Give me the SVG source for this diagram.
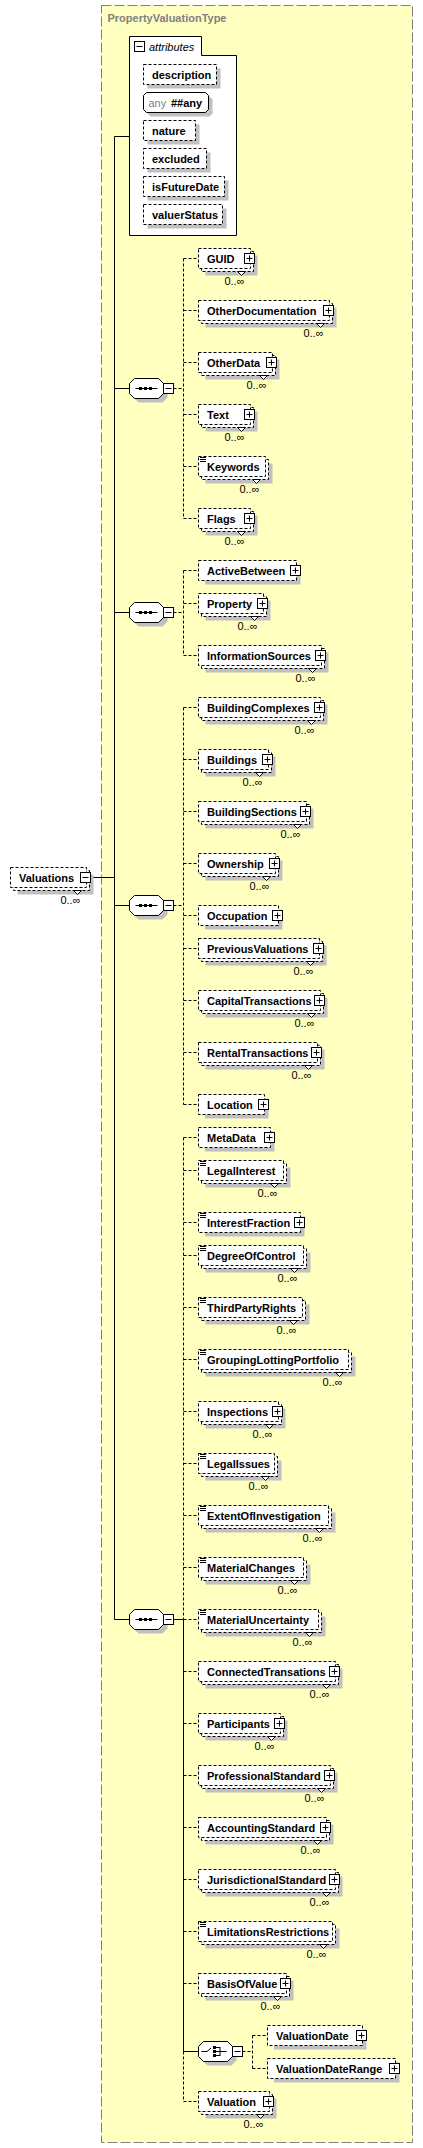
<svg xmlns="http://www.w3.org/2000/svg" xmlns:xlink="http://www.w3.org/1999/xlink" width="423" height="2148" viewBox="0 0 423 2148">
<style>
.bx{fill:#fff;stroke:#000;stroke-dasharray:3 2}
.sb{fill:#fff;stroke:#000}
.sh{fill:#c0c0c0}
.t{font-family:"Liberation Sans",Arial,sans-serif;font-size:11px;font-weight:bold;fill:#000}
.ti{font-family:"Liberation Sans",Arial,sans-serif;font-size:11px;font-style:italic;fill:#000}
.g{font-family:"Liberation Sans",Arial,sans-serif;font-size:11px;fill:#808080}
.o{font-family:"Liberation Sans",Arial,sans-serif;font-size:11px;fill:#000;text-anchor:end}
.ic{fill:none;stroke:#000}
.c{fill:none;stroke:#000}
.d{stroke-dasharray:3 2}
</style>
<defs>
<polygon id="oct" points="5,-10 29,-10 34,-5 34,5 29,10 5,10 0,5 0,-5"/>
<g id="seq">
<use xlink:href="#oct" class="sh" transform="translate(4,4)"/>
<use xlink:href="#oct" class="sb"/>
<path class="ic" d="M6,0 H28"/>
<rect x="9.5" y="-1.5" width="3" height="3" fill="#000"/>
<rect x="14.5" y="-1.5" width="3" height="3" fill="#000"/>
<rect x="19.5" y="-1.5" width="3" height="3" fill="#000"/>
<rect class="sb" x="34" y="-5" width="10" height="10"/>
<path class="ic" d="M36,0 H42"/>
</g>
</defs>
<rect x="101.5" y="5.5" width="311" height="2137" fill="#ffffc0" stroke="#808080" stroke-dasharray="10 3"/>
<text x="107.5" y="22" class="t" style="fill:#808080">PropertyValuationType</text>

<g id="connectors">
<path class="c" d="M114.5,136.5 V1619.5 M114.5,136.5 H129.5 M90.5,877.5 H114.5 M114.5,388.5 H129.5 M114.5,612.5 H129.5 M114.5,905.5 H129.5 M114.5,1619.5 H129.5 M173.5,1619.5 H183.5 M183.5,1619.5 V2051.5 H198.5"/>
<path class="c d" d="M173.5,388.5 H183.5 M183.5,258.5 V518.5 M183.5,258.5 H198.5 M183.5,310.5 H198.5 M183.5,362.5 H198.5 M183.5,414.5 H198.5 M183.5,466.5 H198.5 M183.5,518.5 H198.5"/>
<path class="c d" d="M173.5,612.5 H183.5 M183.5,570.5 V655.5 M183.5,570.5 H198.5 M183.5,603.5 H198.5 M183.5,655.5 H198.5"/>
<path class="c d" d="M173.5,905.5 H183.5 M183.5,707.5 V1104.5 M183.5,707.5 H198.5 M183.5,759.5 H198.5 M183.5,811.5 H198.5 M183.5,863.5 H198.5 M183.5,915.5 H198.5 M183.5,948.5 H198.5 M183.5,1000.5 H198.5 M183.5,1052.5 H198.5 M183.5,1104.5 H198.5"/>
<path class="c d" d="M183.5,1137.5 V1619.5 M183.5,2051.5 V2101.5 M183.5,1137.5 H198.5 M183.5,1170.5 H198.5 M183.5,1222.5 H198.5 M183.5,1255.5 H198.5 M183.5,1307.5 H198.5 M183.5,1359.5 H198.5 M183.5,1411.5 H198.5 M183.5,1463.5 H198.5 M183.5,1515.5 H198.5 M183.5,1567.5 H198.5 M183.5,1619.5 H198.5 M183.5,1671.5 H198.5 M183.5,1723.5 H198.5 M183.5,1775.5 H198.5 M183.5,1827.5 H198.5 M183.5,1879.5 H198.5 M183.5,1931.5 H198.5 M183.5,1983.5 H198.5 M183.5,2101.5 H198.5"/>
<path class="c d" d="M242.5,2051.5 H252.5 M252.5,2035.5 V2068.5 M252.5,2035.5 H267.5 M252.5,2068.5 H267.5"/>
</g>

<g id="attributes">
<path class="sb" d="M129.5,36.5 H201.5 V55.5 H236.5 V235.5 H129.5 Z"/>
<rect class="sb" x="134.5" y="41.5" width="10" height="10"/>
<path class="ic" d="M136.5,46.5 H142.5"/>
<text class="ti" x="149" y="51">attributes</text>
</g>
<g id="attr-description">
<rect class="sh" x="147.5" y="68.5" width="73" height="20"/>
<rect class="bx" x="143.5" y="64.5" width="73" height="20"/>
<text class="t" x="152" y="79">description</text>
</g>
<g id="attr-any">
<polygon class="sh" points="150.5,96.5 209.5,96.5 212.5,99.5 212.5,113.5 209.5,116.5 150.5,116.5 147.5,113.5 147.5,99.5"/>
<polygon class="sb" points="146.5,92.5 205.5,92.5 208.5,95.5 208.5,109.5 205.5,112.5 146.5,112.5 143.5,109.5 143.5,95.5"/>
<text class="g" x="148.5" y="107">any</text>
<text class="t" x="171" y="107">##any</text>
</g>
<g id="attr-nature">
<rect class="sh" x="147.5" y="124.5" width="52" height="20"/>
<rect class="bx" x="143.5" y="120.5" width="52" height="20"/>
<text class="t" x="152" y="135">nature</text>
</g>
<g id="attr-excluded">
<rect class="sh" x="147.5" y="152.5" width="63" height="20"/>
<rect class="bx" x="143.5" y="148.5" width="63" height="20"/>
<text class="t" x="152" y="163">excluded</text>
</g>
<g id="attr-isFutureDate">
<rect class="sh" x="147.5" y="180.5" width="81" height="20"/>
<rect class="bx" x="143.5" y="176.5" width="81" height="20"/>
<text class="t" x="152" y="191">isFutureDate</text>
</g>
<g id="attr-valuerStatus">
<rect class="sh" x="147.5" y="208.5" width="79" height="20"/>
<rect class="bx" x="143.5" y="204.5" width="79" height="20"/>
<text class="t" x="152" y="219">valuerStatus</text>
</g>

<g id="Valuations">
<rect class="sh" x="17.5" y="874.5" width="76" height="20"/>
<rect class="bx" x="13.5" y="870.5" width="76" height="20"/>
<rect class="bx" x="10.5" y="867.5" width="76" height="20"/>
<polygon class="sb" points="73.5,890.5 77.5,894.5 81.5,890.5"/>
<text class="t" x="19" y="882">Valuations</text>
<rect class="sb" x="80.5" y="872.5" width="10" height="10"/>
<path class="ic" d="M82.5,877.5 h6"/>
<text class="o" x="80.5" y="904">0..∞</text>
</g>

<g id="sequence1"><use xlink:href="#seq" transform="translate(129.5,388.5)"/></g>
<g id="sequence2"><use xlink:href="#seq" transform="translate(129.5,612.5)"/></g>
<g id="sequence3"><use xlink:href="#seq" transform="translate(129.5,905.5)"/></g>
<g id="sequence4"><use xlink:href="#seq" transform="translate(129.5,1619.5)"/></g>

<g id="choice" transform="translate(198.5,2051.5)">
<use xlink:href="#oct" class="sh" transform="translate(4,4)"/>
<use xlink:href="#oct" class="sb"/>
<path class="ic" d="M3,0 H8.5 L12.5,-3.5 M17.5,-4 H21.5 M17.5,0 H28 M17.5,4 H21.5 M21.5,-4.5 V4.5"/>
<rect x="14.5" y="-5.5" width="3" height="3" fill="#000"/>
<rect x="14.5" y="-1.5" width="3" height="3" fill="#000"/>
<rect x="14.5" y="2.5" width="3" height="3" fill="#000"/>
<rect class="sb" x="34" y="-5" width="10" height="10"/>
<path class="ic" d="M36,0 H42"/>
</g>

<g id="GUID">
<rect class="sh" x="205.5" y="255.5" width="52" height="20"/>
<rect class="bx" x="201.5" y="251.5" width="52" height="20"/>
<rect class="bx" x="198.5" y="248.5" width="52" height="20"/>
<polygon class="sb" points="237.5,271.5 241.5,275.5 245.5,271.5"/>
<text class="t" x="207" y="263">GUID</text>
<rect class="sb" x="244.5" y="253.5" width="10" height="10"/>
<path class="ic" d="M246.5,258.5h6M249.5,255.5v6"/>
<text class="o" x="244.5" y="285">0..∞</text>
</g>
<g id="OtherDocumentation">
<rect class="sh" x="205.5" y="307.5" width="131" height="20"/>
<rect class="bx" x="201.5" y="303.5" width="131" height="20"/>
<rect class="bx" x="198.5" y="300.5" width="131" height="20"/>
<polygon class="sb" points="316.5,323.5 320.5,327.5 324.5,323.5"/>
<text class="t" x="207" y="315">OtherDocumentation</text>
<rect class="sb" x="323.5" y="305.5" width="10" height="10"/>
<path class="ic" d="M325.5,310.5h6M328.5,307.5v6"/>
<text class="o" x="323.5" y="337">0..∞</text>
</g>
<g id="OtherData">
<rect class="sh" x="205.5" y="359.5" width="74" height="20"/>
<rect class="bx" x="201.5" y="355.5" width="74" height="20"/>
<rect class="bx" x="198.5" y="352.5" width="74" height="20"/>
<polygon class="sb" points="259.5,375.5 263.5,379.5 267.5,375.5"/>
<text class="t" x="207" y="367">OtherData</text>
<rect class="sb" x="266.5" y="357.5" width="10" height="10"/>
<path class="ic" d="M268.5,362.5h6M271.5,359.5v6"/>
<text class="o" x="266.5" y="389">0..∞</text>
</g>
<g id="Text">
<rect class="sh" x="205.5" y="411.5" width="52" height="20"/>
<rect class="bx" x="201.5" y="407.5" width="52" height="20"/>
<rect class="bx" x="198.5" y="404.5" width="52" height="20"/>
<polygon class="sb" points="237.5,427.5 241.5,431.5 245.5,427.5"/>
<text class="t" x="207" y="419">Text</text>
<rect class="sb" x="244.5" y="409.5" width="10" height="10"/>
<path class="ic" d="M246.5,414.5h6M249.5,411.5v6"/>
<text class="o" x="244.5" y="441">0..∞</text>
</g>
<g id="Keywords">
<rect class="sh" x="205.5" y="463.5" width="67" height="20"/>
<rect class="bx" x="201.5" y="459.5" width="67" height="20"/>
<rect class="bx" x="198.5" y="456.5" width="67" height="20"/>
<polygon class="sb" points="252.5,479.5 256.5,483.5 260.5,479.5"/>
<path class="ic" d="M200,457.5h6M200,459.5h6M200,461.5h6"/>
<text class="t" x="207" y="471">Keywords</text>
<text class="o" x="259.5" y="493">0..∞</text>
</g>
<g id="Flags">
<rect class="sh" x="205.5" y="515.5" width="52" height="20"/>
<rect class="bx" x="201.5" y="511.5" width="52" height="20"/>
<rect class="bx" x="198.5" y="508.5" width="52" height="20"/>
<polygon class="sb" points="237.5,531.5 241.5,535.5 245.5,531.5"/>
<text class="t" x="207" y="523">Flags</text>
<rect class="sb" x="244.5" y="513.5" width="10" height="10"/>
<path class="ic" d="M246.5,518.5h6M249.5,515.5v6"/>
<text class="o" x="244.5" y="545">0..∞</text>
</g>

<g id="ActiveBetween">
<rect class="sh" x="205" y="564.5" width="95.5" height="20"/>
<rect class="bx" x="198.5" y="560.5" width="98" height="20"/>
<text class="t" x="207" y="575">ActiveBetween</text>
<rect class="sb" x="290.5" y="565.5" width="10" height="10"/>
<path class="ic" d="M292.5,570.5h6M295.5,567.5v6"/>
</g>
<g id="Property">
<rect class="sh" x="205.5" y="600.5" width="65" height="20"/>
<rect class="bx" x="201.5" y="596.5" width="65" height="20"/>
<rect class="bx" x="198.5" y="593.5" width="65" height="20"/>
<polygon class="sb" points="250.5,616.5 254.5,620.5 258.5,616.5"/>
<text class="t" x="207" y="608">Property</text>
<rect class="sb" x="257.5" y="598.5" width="10" height="10"/>
<path class="ic" d="M259.5,603.5h6M262.5,600.5v6"/>
<text class="o" x="257.5" y="630">0..∞</text>
</g>
<g id="InformationSources">
<rect class="sh" x="205.5" y="652.5" width="123" height="20"/>
<rect class="bx" x="201.5" y="648.5" width="123" height="20"/>
<rect class="bx" x="198.5" y="645.5" width="123" height="20"/>
<polygon class="sb" points="308.5,668.5 312.5,672.5 316.5,668.5"/>
<text class="t" x="207" y="660">InformationSources</text>
<rect class="sb" x="315.5" y="650.5" width="10" height="10"/>
<path class="ic" d="M317.5,655.5h6M320.5,652.5v6"/>
<text class="o" x="315.5" y="682">0..∞</text>
</g>

<g id="BuildingComplexes">
<rect class="sh" x="205.5" y="704.5" width="122" height="20"/>
<rect class="bx" x="201.5" y="700.5" width="122" height="20"/>
<rect class="bx" x="198.5" y="697.5" width="122" height="20"/>
<polygon class="sb" points="307.5,720.5 311.5,724.5 315.5,720.5"/>
<text class="t" x="207" y="712">BuildingComplexes</text>
<rect class="sb" x="314.5" y="702.5" width="10" height="10"/>
<path class="ic" d="M316.5,707.5h6M319.5,704.5v6"/>
<text class="o" x="314.5" y="734">0..∞</text>
</g>
<g id="Buildings">
<rect class="sh" x="205.5" y="756.5" width="70" height="20"/>
<rect class="bx" x="201.5" y="752.5" width="70" height="20"/>
<rect class="bx" x="198.5" y="749.5" width="70" height="20"/>
<polygon class="sb" points="255.5,772.5 259.5,776.5 263.5,772.5"/>
<text class="t" x="207" y="764">Buildings</text>
<rect class="sb" x="262.5" y="754.5" width="10" height="10"/>
<path class="ic" d="M264.5,759.5h6M267.5,756.5v6"/>
<text class="o" x="262.5" y="786">0..∞</text>
</g>
<g id="BuildingSections">
<rect class="sh" x="205.5" y="808.5" width="108" height="20"/>
<rect class="bx" x="201.5" y="804.5" width="108" height="20"/>
<rect class="bx" x="198.5" y="801.5" width="108" height="20"/>
<polygon class="sb" points="293.5,824.5 297.5,828.5 301.5,824.5"/>
<text class="t" x="207" y="816">BuildingSections</text>
<rect class="sb" x="300.5" y="806.5" width="10" height="10"/>
<path class="ic" d="M302.5,811.5h6M305.5,808.5v6"/>
<text class="o" x="300.5" y="838">0..∞</text>
</g>
<g id="Ownership">
<rect class="sh" x="205.5" y="860.5" width="77" height="20"/>
<rect class="bx" x="201.5" y="856.5" width="77" height="20"/>
<rect class="bx" x="198.5" y="853.5" width="77" height="20"/>
<polygon class="sb" points="262.5,876.5 266.5,880.5 270.5,876.5"/>
<text class="t" x="207" y="868">Ownership</text>
<rect class="sb" x="269.5" y="858.5" width="10" height="10"/>
<path class="ic" d="M271.5,863.5h6M274.5,860.5v6"/>
<text class="o" x="269.5" y="890">0..∞</text>
</g>
<g id="Occupation">
<rect class="sh" x="205" y="909.5" width="77.5" height="20"/>
<rect class="bx" x="198.5" y="905.5" width="80" height="20"/>
<text class="t" x="207" y="920">Occupation</text>
<rect class="sb" x="272.5" y="910.5" width="10" height="10"/>
<path class="ic" d="M274.5,915.5h6M277.5,912.5v6"/>
</g>
<g id="PreviousValuations">
<rect class="sh" x="205.5" y="945.5" width="121" height="20"/>
<rect class="bx" x="201.5" y="941.5" width="121" height="20"/>
<rect class="bx" x="198.5" y="938.5" width="121" height="20"/>
<polygon class="sb" points="306.5,961.5 310.5,965.5 314.5,961.5"/>
<text class="t" x="207" y="953">PreviousValuations</text>
<rect class="sb" x="313.5" y="943.5" width="10" height="10"/>
<path class="ic" d="M315.5,948.5h6M318.5,945.5v6"/>
<text class="o" x="313.5" y="975">0..∞</text>
</g>
<g id="CapitalTransactions">
<rect class="sh" x="205.5" y="997.5" width="122" height="20"/>
<rect class="bx" x="201.5" y="993.5" width="122" height="20"/>
<rect class="bx" x="198.5" y="990.5" width="122" height="20"/>
<polygon class="sb" points="307.5,1013.5 311.5,1017.5 315.5,1013.5"/>
<text class="t" x="207" y="1005">CapitalTransactions</text>
<rect class="sb" x="314.5" y="995.5" width="10" height="10"/>
<path class="ic" d="M316.5,1000.5h6M319.5,997.5v6"/>
<text class="o" x="314.5" y="1027">0..∞</text>
</g>
<g id="RentalTransactions">
<rect class="sh" x="205.5" y="1049.5" width="119" height="20"/>
<rect class="bx" x="201.5" y="1045.5" width="119" height="20"/>
<rect class="bx" x="198.5" y="1042.5" width="119" height="20"/>
<polygon class="sb" points="304.5,1065.5 308.5,1069.5 312.5,1065.5"/>
<text class="t" x="207" y="1057">RentalTransactions</text>
<rect class="sb" x="311.5" y="1047.5" width="10" height="10"/>
<path class="ic" d="M313.5,1052.5h6M316.5,1049.5v6"/>
<text class="o" x="311.5" y="1079">0..∞</text>
</g>
<g id="Location">
<rect class="sh" x="205" y="1098.5" width="63.5" height="20"/>
<rect class="bx" x="198.5" y="1094.5" width="66" height="20"/>
<text class="t" x="207" y="1109">Location</text>
<rect class="sb" x="258.5" y="1099.5" width="10" height="10"/>
<path class="ic" d="M260.5,1104.5h6M263.5,1101.5v6"/>
</g>

<g id="MetaData">
<rect class="sh" x="205" y="1131.5" width="69.5" height="20"/>
<rect class="bx" x="198.5" y="1127.5" width="72" height="20"/>
<text class="t" x="207" y="1142">MetaData</text>
<rect class="sb" x="264.5" y="1132.5" width="10" height="10"/>
<path class="ic" d="M266.5,1137.5h6M269.5,1134.5v6"/>
</g>
<g id="LegalInterest">
<rect class="sh" x="205.5" y="1167.5" width="85" height="20"/>
<rect class="bx" x="201.5" y="1163.5" width="85" height="20"/>
<rect class="bx" x="198.5" y="1160.5" width="85" height="20"/>
<polygon class="sb" points="270.5,1183.5 274.5,1187.5 278.5,1183.5"/>
<path class="ic" d="M200,1161.5h6M200,1163.5h6M200,1165.5h6"/>
<text class="t" x="207" y="1175">LegalInterest</text>
<text class="o" x="277.5" y="1197">0..∞</text>
</g>
<g id="InterestFraction">
<rect class="sh" x="205" y="1216.5" width="99.5" height="20"/>
<rect class="bx" x="198.5" y="1212.5" width="102" height="20"/>
<path class="ic" d="M200,1213.5h6M200,1215.5h6M200,1217.5h6"/>
<text class="t" x="207" y="1227">InterestFraction</text>
<rect class="sb" x="294.5" y="1217.5" width="10" height="10"/>
<path class="ic" d="M296.5,1222.5h6M299.5,1219.5v6"/>
</g>
<g id="DegreeOfControl">
<rect class="sh" x="205.5" y="1252.5" width="105" height="20"/>
<rect class="bx" x="201.5" y="1248.5" width="105" height="20"/>
<rect class="bx" x="198.5" y="1245.5" width="105" height="20"/>
<polygon class="sb" points="290.5,1268.5 294.5,1272.5 298.5,1268.5"/>
<path class="ic" d="M200,1246.5h6M200,1248.5h6M200,1250.5h6"/>
<text class="t" x="207" y="1260">DegreeOfControl</text>
<text class="o" x="297.5" y="1282">0..∞</text>
</g>
<g id="ThirdPartyRights">
<rect class="sh" x="205.5" y="1304.5" width="104" height="20"/>
<rect class="bx" x="201.5" y="1300.5" width="104" height="20"/>
<rect class="bx" x="198.5" y="1297.5" width="104" height="20"/>
<polygon class="sb" points="289.5,1320.5 293.5,1324.5 297.5,1320.5"/>
<path class="ic" d="M200,1298.5h6M200,1300.5h6M200,1302.5h6"/>
<text class="t" x="207" y="1312">ThirdPartyRights</text>
<text class="o" x="296.5" y="1334">0..∞</text>
</g>
<g id="GroupingLottingPortfolio">
<rect class="sh" x="205.5" y="1356.5" width="150" height="20"/>
<rect class="bx" x="201.5" y="1352.5" width="150" height="20"/>
<rect class="bx" x="198.5" y="1349.5" width="150" height="20"/>
<polygon class="sb" points="335.5,1372.5 339.5,1376.5 343.5,1372.5"/>
<path class="ic" d="M200,1350.5h6M200,1352.5h6M200,1354.5h6"/>
<text class="t" x="207" y="1364">GroupingLottingPortfolio</text>
<text class="o" x="342.5" y="1386">0..∞</text>
</g>
<g id="Inspections">
<rect class="sh" x="205.5" y="1408.5" width="80" height="20"/>
<rect class="bx" x="201.5" y="1404.5" width="80" height="20"/>
<rect class="bx" x="198.5" y="1401.5" width="80" height="20"/>
<polygon class="sb" points="265.5,1424.5 269.5,1428.5 273.5,1424.5"/>
<text class="t" x="207" y="1416">Inspections</text>
<rect class="sb" x="272.5" y="1406.5" width="10" height="10"/>
<path class="ic" d="M274.5,1411.5h6M277.5,1408.5v6"/>
<text class="o" x="272.5" y="1438">0..∞</text>
</g>
<g id="LegalIssues">
<rect class="sh" x="205.5" y="1460.5" width="76" height="20"/>
<rect class="bx" x="201.5" y="1456.5" width="76" height="20"/>
<rect class="bx" x="198.5" y="1453.5" width="76" height="20"/>
<polygon class="sb" points="261.5,1476.5 265.5,1480.5 269.5,1476.5"/>
<path class="ic" d="M200,1454.5h6M200,1456.5h6M200,1458.5h6"/>
<text class="t" x="207" y="1468">LegalIssues</text>
<text class="o" x="268.5" y="1490">0..∞</text>
</g>
<g id="ExtentOfInvestigation">
<rect class="sh" x="205.5" y="1512.5" width="130" height="20"/>
<rect class="bx" x="201.5" y="1508.5" width="130" height="20"/>
<rect class="bx" x="198.5" y="1505.5" width="130" height="20"/>
<polygon class="sb" points="315.5,1528.5 319.5,1532.5 323.5,1528.5"/>
<path class="ic" d="M200,1506.5h6M200,1508.5h6M200,1510.5h6"/>
<text class="t" x="207" y="1520">ExtentOfInvestigation</text>
<text class="o" x="322.5" y="1542">0..∞</text>
</g>
<g id="MaterialChanges">
<rect class="sh" x="205.5" y="1564.5" width="105" height="20"/>
<rect class="bx" x="201.5" y="1560.5" width="105" height="20"/>
<rect class="bx" x="198.5" y="1557.5" width="105" height="20"/>
<polygon class="sb" points="290.5,1580.5 294.5,1584.5 298.5,1580.5"/>
<path class="ic" d="M200,1558.5h6M200,1560.5h6M200,1562.5h6"/>
<text class="t" x="207" y="1572">MaterialChanges</text>
<text class="o" x="297.5" y="1594">0..∞</text>
</g>
<g id="MaterialUncertainty">
<rect class="sh" x="205.5" y="1616.5" width="120" height="20"/>
<rect class="bx" x="201.5" y="1612.5" width="120" height="20"/>
<rect class="bx" x="198.5" y="1609.5" width="120" height="20"/>
<polygon class="sb" points="305.5,1632.5 309.5,1636.5 313.5,1632.5"/>
<path class="ic" d="M200,1610.5h6M200,1612.5h6M200,1614.5h6"/>
<text class="t" x="207" y="1624">MaterialUncertainty</text>
<text class="o" x="312.5" y="1646">0..∞</text>
</g>
<g id="ConnectedTransations">
<rect class="sh" x="205.5" y="1668.5" width="137" height="20"/>
<rect class="bx" x="201.5" y="1664.5" width="137" height="20"/>
<rect class="bx" x="198.5" y="1661.5" width="137" height="20"/>
<polygon class="sb" points="322.5,1684.5 326.5,1688.5 330.5,1684.5"/>
<text class="t" x="207" y="1676">ConnectedTransations</text>
<rect class="sb" x="329.5" y="1666.5" width="10" height="10"/>
<path class="ic" d="M331.5,1671.5h6M334.5,1668.5v6"/>
<text class="o" x="329.5" y="1698">0..∞</text>
</g>
<g id="Participants">
<rect class="sh" x="205.5" y="1720.5" width="82" height="20"/>
<rect class="bx" x="201.5" y="1716.5" width="82" height="20"/>
<rect class="bx" x="198.5" y="1713.5" width="82" height="20"/>
<polygon class="sb" points="267.5,1736.5 271.5,1740.5 275.5,1736.5"/>
<text class="t" x="207" y="1728">Participants</text>
<rect class="sb" x="274.5" y="1718.5" width="10" height="10"/>
<path class="ic" d="M276.5,1723.5h6M279.5,1720.5v6"/>
<text class="o" x="274.5" y="1750">0..∞</text>
</g>
<g id="ProfessionalStandard">
<rect class="sh" x="205.5" y="1772.5" width="132" height="20"/>
<rect class="bx" x="201.5" y="1768.5" width="132" height="20"/>
<rect class="bx" x="198.5" y="1765.5" width="132" height="20"/>
<polygon class="sb" points="317.5,1788.5 321.5,1792.5 325.5,1788.5"/>
<text class="t" x="207" y="1780">ProfessionalStandard</text>
<rect class="sb" x="324.5" y="1770.5" width="10" height="10"/>
<path class="ic" d="M326.5,1775.5h6M329.5,1772.5v6"/>
<text class="o" x="324.5" y="1802">0..∞</text>
</g>
<g id="AccountingStandard">
<rect class="sh" x="205.5" y="1824.5" width="128" height="20"/>
<rect class="bx" x="201.5" y="1820.5" width="128" height="20"/>
<rect class="bx" x="198.5" y="1817.5" width="128" height="20"/>
<polygon class="sb" points="313.5,1840.5 317.5,1844.5 321.5,1840.5"/>
<text class="t" x="207" y="1832">AccountingStandard</text>
<rect class="sb" x="320.5" y="1822.5" width="10" height="10"/>
<path class="ic" d="M322.5,1827.5h6M325.5,1824.5v6"/>
<text class="o" x="320.5" y="1854">0..∞</text>
</g>
<g id="JurisdictionalStandard">
<rect class="sh" x="205.5" y="1876.5" width="137" height="20"/>
<rect class="bx" x="201.5" y="1872.5" width="137" height="20"/>
<rect class="bx" x="198.5" y="1869.5" width="137" height="20"/>
<polygon class="sb" points="322.5,1892.5 326.5,1896.5 330.5,1892.5"/>
<text class="t" x="207" y="1884">JurisdictionalStandard</text>
<rect class="sb" x="329.5" y="1874.5" width="10" height="10"/>
<path class="ic" d="M331.5,1879.5h6M334.5,1876.5v6"/>
<text class="o" x="329.5" y="1906">0..∞</text>
</g>
<g id="LimitationsRestrictions">
<rect class="sh" x="205.5" y="1928.5" width="134" height="20"/>
<rect class="bx" x="201.5" y="1924.5" width="134" height="20"/>
<rect class="bx" x="198.5" y="1921.5" width="134" height="20"/>
<polygon class="sb" points="319.5,1944.5 323.5,1948.5 327.5,1944.5"/>
<path class="ic" d="M200,1922.5h6M200,1924.5h6M200,1926.5h6"/>
<text class="t" x="207" y="1936">LimitationsRestrictions</text>
<text class="o" x="326.5" y="1958">0..∞</text>
</g>
<g id="BasisOfValue">
<rect class="sh" x="205.5" y="1980.5" width="88" height="20"/>
<rect class="bx" x="201.5" y="1976.5" width="88" height="20"/>
<rect class="bx" x="198.5" y="1973.5" width="88" height="20"/>
<polygon class="sb" points="273.5,1996.5 277.5,2000.5 281.5,1996.5"/>
<text class="t" x="207" y="1988">BasisOfValue</text>
<rect class="sb" x="280.5" y="1978.5" width="10" height="10"/>
<path class="ic" d="M282.5,1983.5h6M285.5,1980.5v6"/>
<text class="o" x="280.5" y="2010">0..∞</text>
</g>
<g id="ValuationDate">
<rect class="sh" x="274" y="2029.5" width="92.5" height="20"/>
<rect class="bx" x="267.5" y="2025.5" width="95" height="20"/>
<text class="t" x="276" y="2040">ValuationDate</text>
<rect class="sb" x="356.5" y="2030.5" width="10" height="10"/>
<path class="ic" d="M358.5,2035.5h6M361.5,2032.5v6"/>
</g>
<g id="ValuationDateRange">
<rect class="sh" x="274" y="2062.5" width="125.5" height="20"/>
<rect class="bx" x="267.5" y="2058.5" width="128" height="20"/>
<text class="t" x="276" y="2073">ValuationDateRange</text>
<rect class="sb" x="389.5" y="2063.5" width="10" height="10"/>
<path class="ic" d="M391.5,2068.5h6M394.5,2065.5v6"/>
</g>
<g id="Valuation">
<rect class="sh" x="205.5" y="2098.5" width="71" height="20"/>
<rect class="bx" x="201.5" y="2094.5" width="71" height="20"/>
<rect class="bx" x="198.5" y="2091.5" width="71" height="20"/>
<polygon class="sb" points="256.5,2114.5 260.5,2118.5 264.5,2114.5"/>
<text class="t" x="207" y="2106">Valuation</text>
<rect class="sb" x="263.5" y="2096.5" width="10" height="10"/>
<path class="ic" d="M265.5,2101.5h6M268.5,2098.5v6"/>
<text class="o" x="263.5" y="2128">0..∞</text>
</g>
</svg>
